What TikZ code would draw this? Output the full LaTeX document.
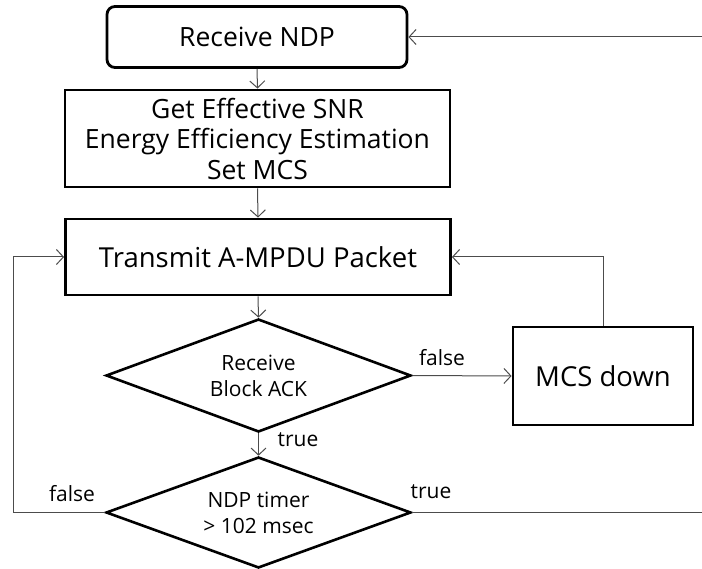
\documentclass[tikz,border=0pt]{standalone}
\usepackage{fontspec}
\setmainfont{Open Sans}
\usetikzlibrary{shapes.geometric,arrows.meta}
\begin{document}
\begin{tikzpicture}[x=1pt,y=-1pt,
  box/.style={draw=black,line width=2.8pt,rectangle,inner sep=0pt,font=\fontsize{26.5}{30.5}\selectfont,align=center},
  dec/.style={draw=black,line width=2.6pt,diamond,aspect=2.7,inner sep=0pt,font=\fontsize{21}{26}\selectfont,align=center},
  conn/.style={draw=black!70,line width=1pt,-{Straight Barb[length=7pt,width=15pt,line width=1pt]}},
  plain/.style={draw=black!70,line width=1pt},
  lbl/.style={font=\fontsize{21}{24}\selectfont,inner sep=0pt}]
\useasboundingbox (0,0) rectangle (702,569);
\node[box,rounded corners=8pt,minimum width=300pt,minimum height=61pt] (rnd) at (257,37) {Receive NDP};
\node[box,minimum width=385pt,minimum height=97pt] (get) at (257.5,138.5) {Get Effective SNR\\Energy Efficiency Estimation\\Set MCS};
\node[box,minimum width=385pt,minimum height=76pt,font=\fontsize{27.5}{30}\selectfont] (tx) at (258,257) {Transmit A-MPDU Packet};
\node[dec,minimum width=305pt,minimum height=113pt] (d1) at (258.5,375.5) {Receive\\Block ACK};
\node[box,minimum width=180pt,minimum height=98pt,font=\fontsize{27.5}{30}\selectfont] (mcs) at (603,376) {MCS down};
\node[dec,minimum width=305pt,minimum height=111pt] (d2) at (258.5,512.5) {NDP timer\\> 102 msec};
\coordinate (in1) at (702,37);
\coordinate (lft) at (13,512.5);
\coordinate (out2) at (702,512.5);
\draw[conn] (in1) -- (rnd.east);
\draw[conn] (rnd.south) -- (get.north);
\draw[conn] (get.south) -- (tx.north);
\draw[conn] (tx.south) -- (d1.north);
\draw[conn] (d1.east) -- (mcs.west);
\draw[conn] (mcs.north) |- (tx.east);
\draw[conn] (d1.south) -- (d2.north);
\draw[conn] (d2.west) -- (lft) |- (tx.west);
\draw[plain] (d2.east) -- (out2);
\node[lbl] (lf1) at (442,358) {false};
\node[lbl] (lt1) at (298,440) {true};
\node[lbl] (lf2) at (72,494) {false};
\node[lbl] (lt2) at (431,492) {true};
\end{tikzpicture}
\end{document}
